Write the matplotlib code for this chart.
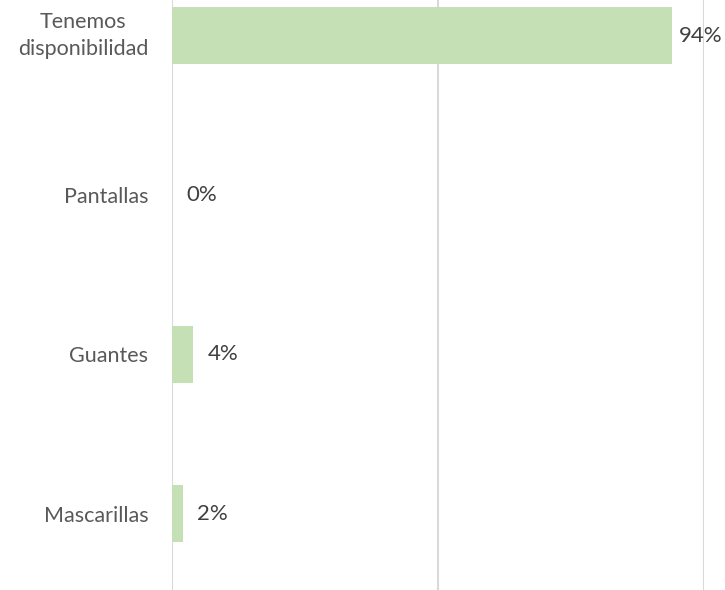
import matplotlib
matplotlib.use("Agg")
import matplotlib.pyplot as plt

categories = ["Mascarillas", "Guantes", "Pantallas", "Tenemos\ndisponibilidad"]
values = [0.02, 0.04, 0.00, 0.94]
value_labels = ["2%", "4%", "0%", "94%"]
xticks = [0, 0.5, 1.0]

plt.rcParams['font.family'] = ['Lato', 'DejaVu Sans']

fig = plt.figure(figsize=(7.25, 5.9), dpi=100)
ax = fig.add_axes([172/725, 0, (704-172)/725, 1])

ypos = list(range(len(categories)))
ax.barh(ypos, values, height=0.355, color="#c5e0b4", zorder=2)

ax.set_xlim(0, 1.0)
ax.set_ylim(-0.48, 3.224)
ax.set_xticks(xticks)
ax.xaxis.grid(True, color="#d9d9d9", linewidth=1.5, zorder=0)
ax.tick_params(axis="x", which="both", length=0, labelbottom=False)
ax.tick_params(axis="y", length=0, pad=17)
ax.set_yticks(ypos)
ax.set_yticklabels(categories, fontsize=15.5, color="#595959", ha="right",
                   multialignment="center", linespacing=1.4)
for s in ax.spines.values():
    s.set_visible(False)
for tl in ax.get_yticklabels():
    if "\n" in tl.get_text():
        tl.set_va("center")

texts = []
for y, v, lab in zip(ypos, values, value_labels):
    t = ax.annotate(lab, xy=(v, y), xytext=(10.5, 0), textcoords="offset points",
                    va="center", ha="left", fontsize=16, color="#404040")
    texts.append(t)

# keep labels inside the figure (shift left if overflowing)
fig.canvas.draw()
r = fig.canvas.get_renderer()
W = fig.bbox.width
for t in texts:
    bb = t.get_window_extent(r)
    if bb.x1 > W - 3:
        dx = (bb.x1 - (W - 3)) * 72 / fig.dpi
        x, yv = t.xyann
        t.xyann = (x - dx, yv)

fig.savefig("out.png", dpi=100)
